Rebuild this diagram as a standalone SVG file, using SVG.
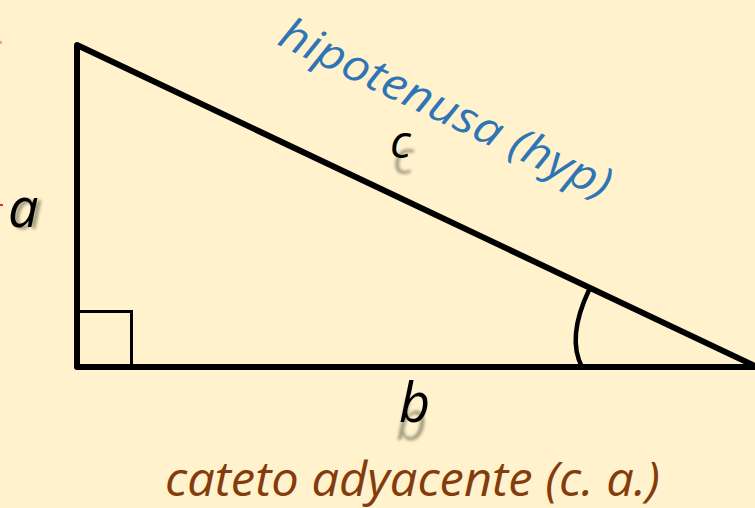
<svg xmlns="http://www.w3.org/2000/svg" width="755" height="508" viewBox="0 0 755 508">
<defs>
<style>
.lbl{font-family:"Open Sans","Liberation Sans",sans-serif;font-style:italic;}
.var{fill:#000;font-size:46px;}
.sh{fill:#7a7a62;opacity:0.7;filter:url(#blur);font-size:46px;}
</style>
<filter id="blur" x="-50%" y="-50%" width="200%" height="200%"><feGaussianBlur stdDeviation="1.8"/></filter>
</defs>
<rect width="755" height="508" fill="#FFF2CC"/>
<rect x="0" y="41" width="2" height="3" fill="#f4a0a0"/>
<rect x="0" y="204" width="3" height="2" fill="#e03030"/>
<g id="connectors">
<path d="M77,45 L77,367 L757,367 Z" fill="none" stroke="#000" stroke-width="6" stroke-linejoin="round"/>
<path d="M77,311.5 H131.5 V367" fill="none" stroke="#000" stroke-width="3"/>
<path d="M589,290 Q566.5,337.5 582,367" fill="none" stroke="#000" stroke-width="4.5"/>
</g>
<g id="label-a">
<text class="lbl sh" x="12" y="229" style="font-size:54px">a</text>
<text class="lbl var" x="8" y="227" style="font-size:54px">a</text>
</g>
<g id="label-c">
<text class="lbl sh" x="393" y="174">c</text>
<text class="lbl var" x="390" y="158">c</text>
</g>
<g id="label-b">
<text class="lbl sh" x="396" y="440" style="font-size:54px">b</text>
<text class="lbl var" x="399" y="422" style="font-size:54px">b</text>
</g>
<g id="label-hyp">
<text class="lbl" x="0" y="0" fill="#2E75B6" font-size="44" textLength="362" lengthAdjust="spacingAndGlyphs" transform="translate(276,44) rotate(25.5)">hipotenusa (hyp)</text>
</g>
<g id="label-ca">
<text class="lbl" x="165" y="496" fill="#843C0C" font-size="47" textLength="495" lengthAdjust="spacingAndGlyphs">cateto adyacente (c. a.)</text>
</g>
</svg>
